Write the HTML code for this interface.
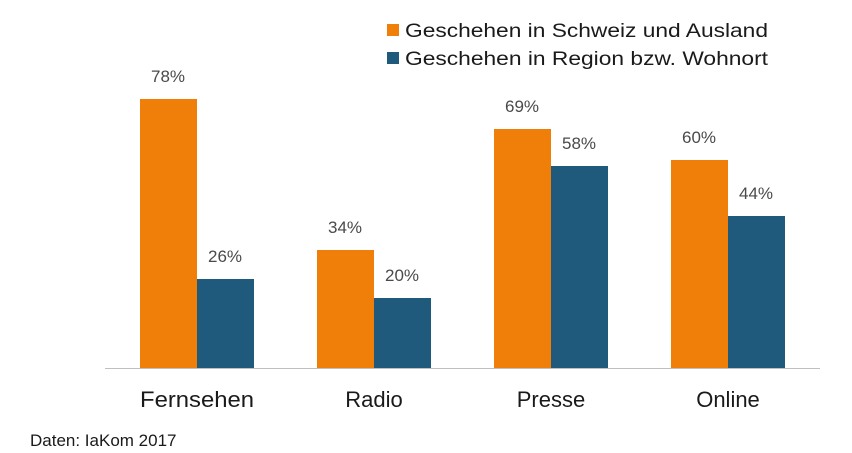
<!DOCTYPE html>
<html><head><meta charset="utf-8"><style>body{margin:0;background:#fff}svg{display:block}</style></head>
<body>
<svg width="852" height="453" xmlns="http://www.w3.org/2000/svg" font-family="Liberation Sans, sans-serif">
<rect x="387" y="24" width="12" height="12" fill="#f07f09"/>
<rect x="387" y="52" width="12" height="12" fill="#1f5a7d"/>
<text x="405" y="37" font-size="19" fill="#1a1a1a" textLength="363" lengthAdjust="spacingAndGlyphs">Geschehen in Schweiz und Ausland</text>
<text x="405" y="65" font-size="19" fill="#1a1a1a" textLength="363" lengthAdjust="spacingAndGlyphs">Geschehen in Region bzw. Wohnort</text>
<g fill="#f07f09">
<rect x="140" y="99" width="57" height="269"/>
<rect x="317" y="250" width="57" height="118"/>
<rect x="494" y="129" width="57" height="239"/>
<rect x="671" y="160" width="57" height="208"/>
</g>
<g fill="#1f5a7d">
<rect x="197" y="279" width="57" height="89"/>
<rect x="374" y="298" width="57" height="70"/>
<rect x="551" y="166" width="57" height="202"/>
<rect x="728" y="216" width="57" height="152"/>
</g>
<line x1="105" y1="368.5" x2="820" y2="368.5" stroke="#bfbfbf" stroke-width="1"/>
<g font-size="17" fill="#4a4a4a" text-anchor="middle">
<text x="168" y="82">78%</text><text x="225" y="262">26%</text>
<text x="345" y="233">34%</text><text x="402" y="281">20%</text>
<text x="522" y="112">69%</text><text x="579" y="149">58%</text>
<text x="699" y="143">60%</text><text x="756" y="199">44%</text>
</g>
<g font-size="22" fill="#1a1a1a" text-anchor="middle">
<text x="197" y="407" textLength="114" lengthAdjust="spacingAndGlyphs">Fernsehen</text>
<text x="374" y="407">Radio</text>
<text x="551" y="407">Presse</text>
<text x="728" y="407">Online</text>
</g>
<text x="30" y="446" font-size="17" fill="#1a1a1a">Daten: IaKom 2017</text>
</svg>
</body></html>
